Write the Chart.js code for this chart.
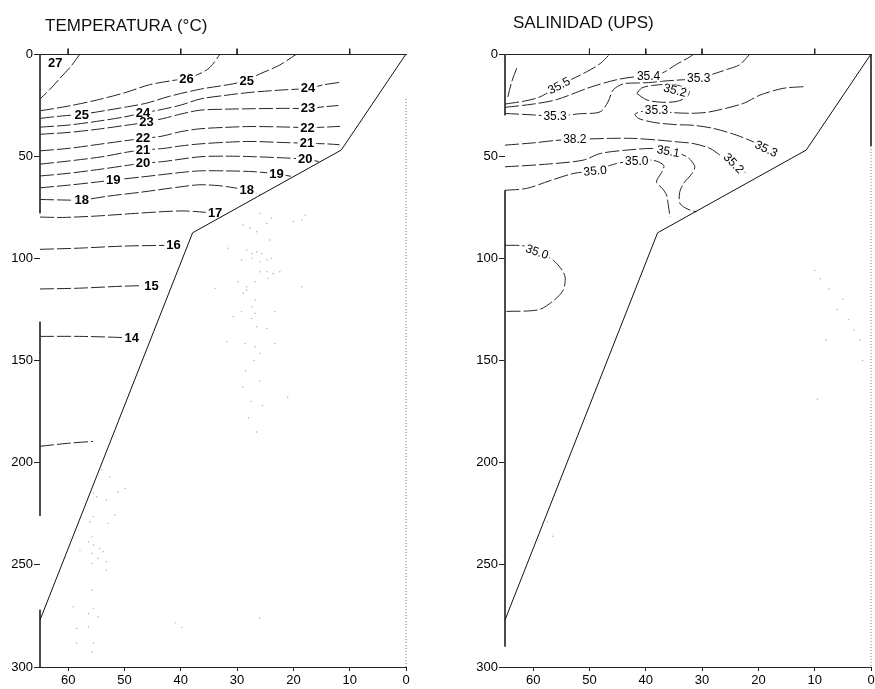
<!DOCTYPE html>
<html><head><meta charset="utf-8">
<script src="https://cdn.jsdelivr.net/npm/chart.js@4/dist/chart.umd.min.js"></script>
<style>
html,body{margin:0;padding:0;background:#fff;}
#wrap{position:relative;width:875px;height:689px;overflow:hidden;}
canvas{position:absolute;top:0;}
#c1{left:0;}
#c2{left:437px;}
</style></head><body>
<div id="wrap"><canvas id="c1" width="437" height="689"></canvas><canvas id="c2" width="438" height="689"></canvas></div>
<script>
// ---------- axes ----------
const xTicks = [60, 50, 40, 30, 20, 10, 0];
const depthTicks = [0, 50, 100, 150, 200, 250, 300];
const stationsT = [60, 40, 30, 10];
const stationsS = [50, 40, 30, 10];
const titleT = 'TEMPERATURA (°C)';
const titleS = 'SALINIDAD (UPS)';

// ---------- bottom profile (distance km, depth m) ----------
const seafloor = [[0, 0], [11.5, 47], [37.9, 87.5], [65, 277]];

// ---------- temperature contours [distance, depth] ----------
const t27 = [[57.9,0],[59.5,6],[61.5,12],[63.3,17.5],[65,22]];
const t26 = [[65,27.8],[60,25.5],[55,22.6],[50,19],[45.5,15],[41.5,13],[39,11.9],[36.6,9.6],[34.8,6.5],[33,0]];
const t25 = [[65,31.5],[61,30.3],[57.6,29.5],[53,27.5],[49,25.6],[46,24],[42,20.7],[36.5,17.2],[30.7,14.6],[28.3,12.8],[26,9.8],[22.5,5.5],[19.4,0]];
const t24 = [[65,35.8],[60,34.8],[55,33],[50,30.8],[46.7,28.8],[44,27.5],[40,25],[36.5,22],[32,20.2],[27.7,18.8],[22,17.6],[17.4,16.8],[14.5,15],[11.5,13.8]];
const t23 = [[65,39.3],[60,38.4],[55,36.9],[50,35],[46.1,33.4],[43,31.5],[40,29.4],[36.6,27.5],[32,27],[27.7,26.8],[22,26.6],[17.4,26.6],[14.5,25.8],[12,25.2]];
const t22 = [[65,47.4],[60,46.2],[54,44],[49.5,42.3],[46.7,41.3],[43.5,40.3],[40,38],[36.6,36.6],[32,35.9],[27.7,35.5],[22,35.7],[17.5,36],[14.5,35.8],[11.7,35.4]];
const t21 = [[65,53.9],[60,52.4],[54,50.3],[49.5,48],[46.7,47],[43,46.2],[40,45],[36.6,44],[32,43.2],[27.7,42.8],[22,43.3],[17.6,43.7],[14,44],[11.8,44.4]];
const t20 = [[65,59.7],[60,58.4],[54,56.3],[49.5,54.5],[46.7,53.5],[43,52.6],[36.6,50.3],[32,50],[27.7,50.2],[22,50.8],[17.9,51.5],[15.5,52.6]];
const t19 = [[65,65.5],[60,64.2],[55,62.7],[52,61.7],[47,60.2],[40,58],[36.6,57.2],[32,57.2],[27,57.6],[23,58.7],[20.3,59.9]];
const t18 = [[65,71.2],[60,71.5],[57.6,71.5],[53,69.6],[47,67.6],[40,65],[36.6,64],[33,64.5],[30.7,65.4],[28.3,66.6],[26,68.7]];
const t17 = [[65,79.8],[61,80],[55,79.3],[48,78],[40,76.8],[35.5,77.5],[33.9,78]];
const t16 = [[65,95.6],[58,95],[50,94],[41.3,93.6]];
const t15 = [[65,115],[58,114.6],[50,113.6],[45.2,113.3]];
const t14 = [[65,138.2],[58,138.2],[52,138.6],[48.7,139]];
const t13 = [[65,192],[60,190.5],[55.6,189.6]];

const tempLabels = [
  [62.3,4.5,'27'],[39,12.2,'26'],[57.6,29.9,'25'],[28.3,13,'25'],
  [46.7,28.7,'24'],[17.4,16.8,'24'],[46.1,33.4,'23'],[17.4,26.6,'23'],
  [46.7,41.3,'22'],[17.5,36,'22'],[46.7,47,'21'],[17.6,43.7,'21'],
  [46.7,53.5,'20'],[17.9,51.5,'20'],[52,61.7,'19'],[23,58.7,'19'],
  [57.6,71.5,'18'],[28.3,66.6,'18'],[33.9,78,'17'],[41.3,93.6,'16'],
  [45.2,113.3,'15'],[48.7,139,'14']
];

// ---------- salinity contours [distance, depth] ----------
const s356 = [[62.9,6.9],[63.8,13.5],[64.5,21]];
const s355 = [[65,24.5],[61.5,23],[58.8,21],[55.2,15.2],[50.5,8.7],[48,4.5],[46.4,0]];
const s354 = [[65,26.1],[60,24.5],[55.8,22.3],[49.9,16.3],[45.2,12.6],[42,11.2],[39.5,10.8],[37,9.2],[34.5,5],[32.1,1.3],[31.5,0]];
const s353a = [[65,29.1],[60,29.8],[56.1,30.5],[52,29.3],[48.1,28.3],[46.7,23.4],[45.8,17.6],[44,14.6],[41.6,14.2],[39.5,14],[37,13.3],[34.5,12.8],[30.6,12],[28.6,10.3],[25.5,7.5],[23.3,5.2],[21.5,0]];
const s352loop = [[41.6,19.3],[40.7,16.6],[38.8,15.4],[36.3,14.9],[33.8,15.7],[32.3,18.2],[32.7,21],[34.5,23.2],[37.2,23.6],[39.8,22.5],[41.6,19.3]];
const s353b = [[12,16],[15.6,16.8],[19.7,20.1],[22.7,24.2],[28.6,28.3],[31.6,29],[35.7,28.6],[38.1,27.6],[40.5,28],[41.9,29.5],[41.2,31.6],[38.5,33.5],[35,34.5],[31.6,34.9],[28,36.4],[23.9,39.7],[20.9,43],[18.5,46.2],[16.8,49.5]];
const s352 = [[65,44.6],[60,43.5],[56,42.3],[52.6,41.8],[46.4,41.3],[42.3,41.3],[37.5,42.2],[34.5,43],[31.6,43.8],[28.6,46.2],[26.8,49.5],[24.2,53.5],[22.3,58]];
const s351 = [[65,55.2],[58,54],[51.2,52],[48.1,48.7],[44,47.2],[38.7,46.2],[36,47.2],[32.7,50.3],[31.3,55],[31.8,58.5],[33.3,63.4],[34,68],[33.9,73.2],[32.5,76],[31,77.3]];
const s350a = [[65,66.7],[61.2,65.8],[57,62],[52.9,58.5],[49,57],[45.2,53.6],[41.6,52.3],[38.7,52],[36.8,54.5],[37.2,58],[38.1,62.6],[37,66],[36.3,69.1],[36,74],[35.7,79.7]];
const s350b = [[65,93.6],[61.5,94],[59.1,96.9],[56.4,101],[54.4,108.3],[54.7,115.7],[56.7,121.4],[59.1,125.2],[65,126]];

const salLabels = [
  [55.4,15.5,'35.5'],[39.5,10.8,'35.4'],[56.1,30.6,'35.3'],[30.6,11.8,'35.3'],
  [34.8,17.8,'35.2'],[38.1,27.4,'35.3'],[18.6,46.4,'35.3'],[52.6,41.6,'38.2'],
  [24.4,53.5,'35.2'],[36,47.6,'35.1'],[49,57.2,'35.0'],[41.6,52.3,'35.0'],
  [59.3,96.8,'35.0']
];
const salLabelRot = [-28,0,0,0,15,0,25,0,45,10,-5,0,20];

// ---------- frame pieces (depth ranges) ----------
const tLeftEdge = [[0,78],[131,226],[272,300]];
const tRightDotted = [[22,300]];
const sLeftEdge = [[0,30],[66.7,290]];
const sRightSolid = [[0,45]];
const sRightDotted = [[45,300]];
const stationTick = [-2.6, 0];

// ---------- faint scan dots ----------
const tDots = [[28.9,83.7],[27.7,85.3],[26.5,87],[24.7,82.9],[23.9,80.4],[20,82],[18.5,81.2],[17.9,78.8],[28.3,95.9],[27.4,97.6],[26.5,96.8],[25.6,97.6],[29.2,100.8],[27.4,100],[25.9,101.6],[24.7,100.8],[23.9,100],[25.9,106.6],[24.7,106.6],[23.6,107.4],[22.4,106.6],[24.5,109.8],[29.8,111.4],[28.3,113.9],[26.8,111.4],[28.9,117.1],[28.3,115.5],[26.8,120.4],[27.4,123.7],[29.2,126.1],[26.8,126.9],[30.7,128.5],[27.4,129.4],[26.5,133.5],[24.7,134.3],[23.3,126.1],[18.5,113.9],[33.9,114.7],[31.6,95.1],[24.2,91],[25.9,78],[28.6,141.6],[31.8,140.8],[26.8,143.3],[25.9,146.5],[23.3,141.6],[27,150],[28.5,155],[26,160],[29,163],[27.5,170],[25.5,172],[28,178],[21,168],[26.5,185],
  [55.5,215],[54.9,216.7],[53.2,218.3],[51.1,214.2],[49.9,212.6],[52.6,206.9],[54,203.6],[51.7,225.6],[52.9,229.7],[56.1,228.9],[55.5,226.4],[55.8,236.3],[56.4,238.7],[55.5,240.3],[55.8,244.4],[57.9,242.8],[54.4,242],[53.8,243.6],[53.2,248.5],[54.7,246.9],[55.8,249.3],[53.2,252.6],[55.8,262.4],[55.5,271.3],[56.4,273.8],[54.7,275.4],[59.1,270.5],[58.5,281.1],[56.4,280.3],[55.5,288.4],[58.5,288.4],[55.8,292.5],[41,278.4],[39.8,280.6],[26,276]];
const sDots = [[10,106],[9,110],[7.5,115],[6,125],[4,130],[3,135],[2,140],[5,120],[8,140],[1.5,150],[9.5,169],[57.5,229],[56.5,236]];

// ---------- helpers ----------
const FONT = '"Liberation Sans", Arial, Helvetica, sans-serif';
const pts = a => a.map(p => ({x: p[0], y: p[1]}));
const contourDS = a => ({data: pts(a), showLine: true, pointRadius: 0, borderColor: '#262626', borderWidth: 1, borderDash: [14, 3], tension: 0.3, fill: false});
const floorDS = () => ({data: pts(seafloor), showLine: true, pointRadius: 0, borderColor: '#111', borderWidth: 1, tension: 0, clip: false});
const edgeDS = (x, segs, dash) => segs.map(s => ({data: [{x: x, y: s[0]}, {x: x, y: s[1]}], showLine: true, pointRadius: 0, borderColor: dash ? '#777' : '#333', borderWidth: 1, borderDash: dash || [], clip: false}));
const stationDS = st => st.map(v => ({data: [{x: v, y: stationTick[0]}, {x: v, y: stationTick[1]}], showLine: true, pointRadius: 0, borderColor: '#222', borderWidth: 1, clip: false}));
const dotsDS = a => ({data: pts(a), showLine: false, pointRadius: 0.7, pointBackgroundColor: '#aaa', pointBorderWidth: 0, borderWidth: 0});

function opts(yW, padR) {
  return {
    responsive: false, animation: false, devicePixelRatio: 1, events: [],
    layout: {padding: {left: 0, right: padR, top: 54, bottom: 0}},
    plugins: {legend: {display: false}, tooltip: {enabled: false}},
    scales: {
      x: {type: 'linear', position: 'bottom', min: 0, max: 65, reverse: true,
        afterBuildTicks: s => { s.ticks = xTicks.map(v => ({value: v})); },
        afterFit: s => { s.height = 22; s.paddingLeft = 0; s.paddingRight = 0; },
        ticks: {color: '#000', font: {family: FONT, size: 13}, padding: 2, maxRotation: 0, autoSkip: false},
        grid: {drawOnChartArea: false, drawTicks: true, tickLength: 4, color: '#222'},
        border: {display: true, color: '#222', width: 1}},
      xTop: {type: 'linear', position: 'top', min: 0, max: 65, reverse: true,
        afterFit: s => { s.height = 0; s.paddingLeft = 0; s.paddingRight = 0; },
        ticks: {display: false},
        grid: {display: false},
        border: {display: true, color: '#222', width: 1}},
      y: {type: 'linear', position: 'left', min: 0, max: 300, reverse: true,
        afterBuildTicks: s => { s.ticks = depthTicks.map(v => ({value: v})); },
        afterFit: s => { s.width = yW; s.paddingTop = 0; s.paddingBottom = 0; },
        ticks: {color: '#000', font: {family: FONT, size: 13}, padding: 1},
        grid: {drawOnChartArea: false, drawTicks: true, tickLength: 6, color: '#222'},
        border: {display: false}}
    }
  };
}

function annot(labels, rots, fontSpec, title, tx, ty) {
  return {
    id: 'annot',
    beforeDatasetDraw(chart, args) {
      if (args.index !== 0) return;
      const ctx = chart.ctx, xs = chart.scales.x, ys = chart.scales.y;
      ctx.save();
      ctx.font = fontSpec;
      ctx.textAlign = 'center';
      ctx.textBaseline = 'middle';
      labels.forEach((l, i) => {
        const px = xs.getPixelForValue(l[0]), py = ys.getPixelForValue(l[1]);
        const r = (rots ? rots[i] : 0) * Math.PI / 180;
        ctx.save();
        ctx.translate(px, py);
        ctx.rotate(r);
        const w = ctx.measureText(l[2]).width;
        ctx.fillStyle = '#fff';
        ctx.fillRect(-w / 2 - 2, -5, w + 4, 10);
        ctx.fillStyle = '#000';
        ctx.fillText(l[2], 0, 0.5);
        ctx.restore();
      });
      ctx.restore();
    },
    afterDraw(chart) {
      const ctx = chart.ctx;
      ctx.save();
      ctx.font = '17px ' + FONT;
      ctx.fillStyle = '#111';
      ctx.textAlign = 'left';
      ctx.textBaseline = 'alphabetic';
      ctx.fillText(title, tx, ty);
      ctx.restore();
    }
  };
}

const tempContours = [t27, t26, t25, t24, t23, t22, t21, t20, t19, t18, t17, t16, t15, t14, t13];
const salContours = [s356, s355, s354, s353a, s352loop, s353b, s352, s351, s350a, s350b];

new Chart(document.getElementById('c1'), {
  type: 'scatter',
  data: {datasets: [floorDS(), ...edgeDS(65, tLeftEdge), ...edgeDS(0, tRightDotted, [1, 2]),
    ...stationDS(stationsT), ...tempContours.map(contourDS), dotsDS(tDots)]},
  options: opts(40, 31),
  plugins: [annot(tempLabels, null, 'bold 13px ' + FONT, titleT, 45, 31)]
});

new Chart(document.getElementById('c2'), {
  type: 'scatter',
  data: {datasets: [floorDS(), ...edgeDS(65, sLeftEdge), ...edgeDS(0, sRightSolid), ...edgeDS(0, sRightDotted, [1, 2]),
    ...stationDS(stationsS), ...salContours.map(contourDS), dotsDS(sDots)]},
  options: opts(68, 4),
  plugins: [annot(salLabels, salLabelRot, '12px ' + FONT, titleS, 76, 28)]
});
</script>
</body></html>
